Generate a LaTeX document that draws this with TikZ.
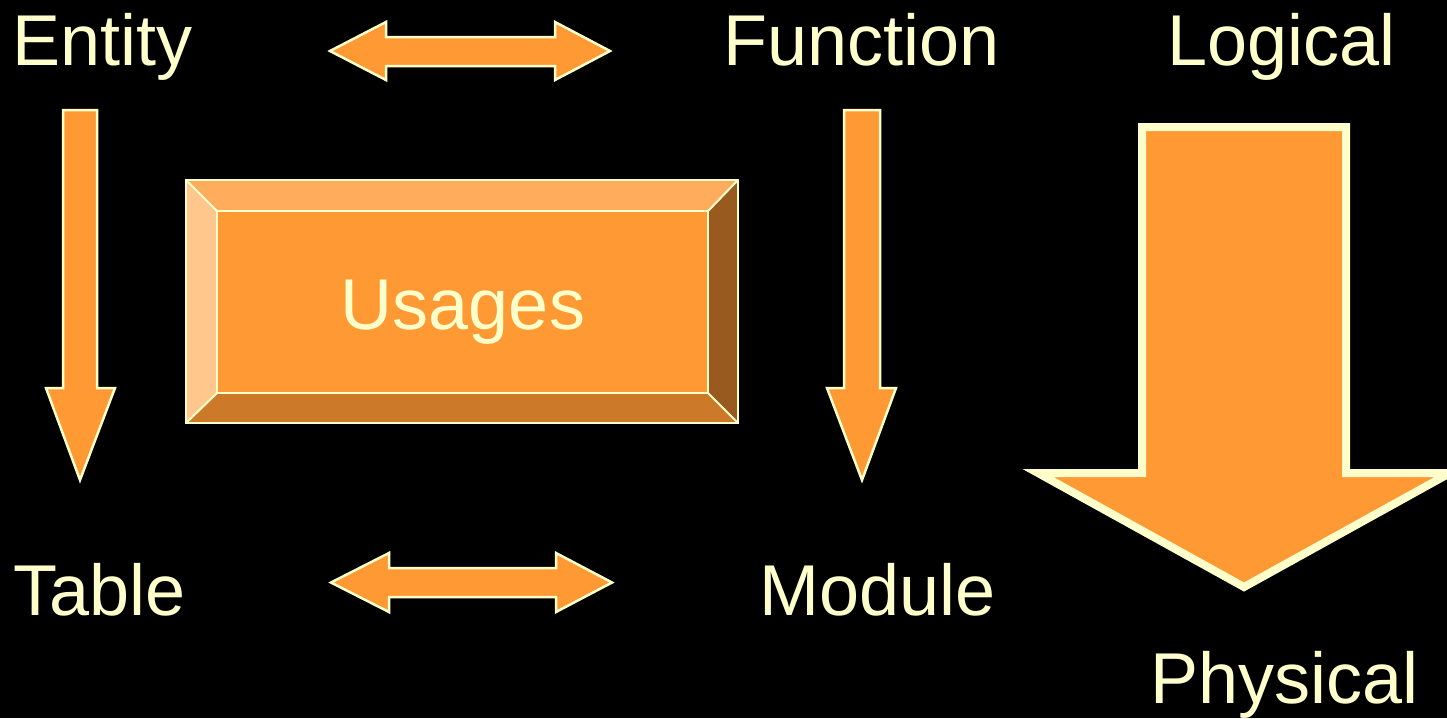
\documentclass[tikz,border=0pt]{standalone}
\usepackage{fontspec}
\setmainfont{Liberation Sans}
\definecolor{paleyellow}{HTML}{FFFFCC}
\definecolor{tangerine}{HTML}{FF9933}
\definecolor{bevtop}{HTML}{FFAD5C}
\definecolor{bevleft}{HTML}{FFC78C}
\definecolor{bevright}{HTML}{995A1F}
\definecolor{bevbottom}{HTML}{CC7A29}
\tikzset{
  lbl/.style={font=\fontsize{72}{86}\selectfont, text=paleyellow, inner sep=0pt, anchor=base west},
  blockarrow/.style={fill=tangerine, draw=paleyellow, line width=2.5pt, line join=miter},
  bigarrow/.style={fill=tangerine, draw=paleyellow, line width=8pt, line join=miter},
  bevelline/.style={draw=paleyellow, line width=2pt},
}
\begin{document}
\begin{tikzpicture}[x=1pt,y=-1pt]
  \fill[black] (0,0) rectangle (1447,718);
  \useasboundingbox (0,0) rectangle (1447,718);

  % labels
  \node[lbl] (entity) at (12.5,65) {Entity};
  \node[lbl] (function) at (723,65) {Function};
  \node[lbl] (logical) at (1167,65) {Logical};
  \node[lbl] (table) at (13.5,615) {Table};
  \node[lbl] (module) at (759,615) {Module};
  \node[lbl] (physical) at (1150,703) {Physical};

  % horizontal double arrows
  \draw[blockarrow] (330,51) -- (386,22) -- (386,37) -- (555,37) -- (555,22)
    -- (610,51) -- (555,80) -- (555,66) -- (386,66) -- (386,80) -- cycle;
  \draw[blockarrow] (331,582.5) -- (389,553) -- (389,568) -- (556,568) -- (556,553)
    -- (612,582.5) -- (556,612) -- (556,597) -- (389,597) -- (389,612) -- cycle;

  % vertical arrows
  \draw[blockarrow] (63,110) -- (97,110) -- (97,388) -- (115,388) -- (80,480)
    -- (46,388) -- (63,388) -- cycle;
  \draw[blockarrow] (844,110) -- (880,110) -- (880,388) -- (896,388) -- (862,480)
    -- (827,388) -- (844,388) -- cycle;

  % large logical-to-physical arrow
  \draw[bigarrow] (1142,127) -- (1346,127) -- (1346,473) -- (1450,473) -- (1244,587)
    -- (1038,473) -- (1142,473) -- cycle;

  % bevelled button
  \coordinate (o1) at (186,180);
  \coordinate (o2) at (738,180);
  \coordinate (o3) at (738,423);
  \coordinate (o4) at (186,423);
  \coordinate (i1) at (217,211);
  \coordinate (i2) at (708,211);
  \coordinate (i3) at (708,393);
  \coordinate (i4) at (217,393);
  \fill[bevtop] (o1) -- (o2) -- (i2) -- (i1) -- cycle;
  \fill[bevright] (o2) -- (o3) -- (i3) -- (i2) -- cycle;
  \fill[bevbottom] (o3) -- (o4) -- (i4) -- (i3) -- cycle;
  \fill[bevleft] (o4) -- (o1) -- (i1) -- (i4) -- cycle;
  \fill[tangerine] (i1) rectangle (i3);
  \draw[bevelline] (o1) rectangle (o3);
  \draw[bevelline] (i1) rectangle (i3);
  \draw[bevelline] (o1) -- (i1) (o2) -- (i2) (o3) -- (i3) (o4) -- (i4);
  \node[lbl, anchor=base] (usages) at (463,329) {Usages};
\end{tikzpicture}
\end{document}
